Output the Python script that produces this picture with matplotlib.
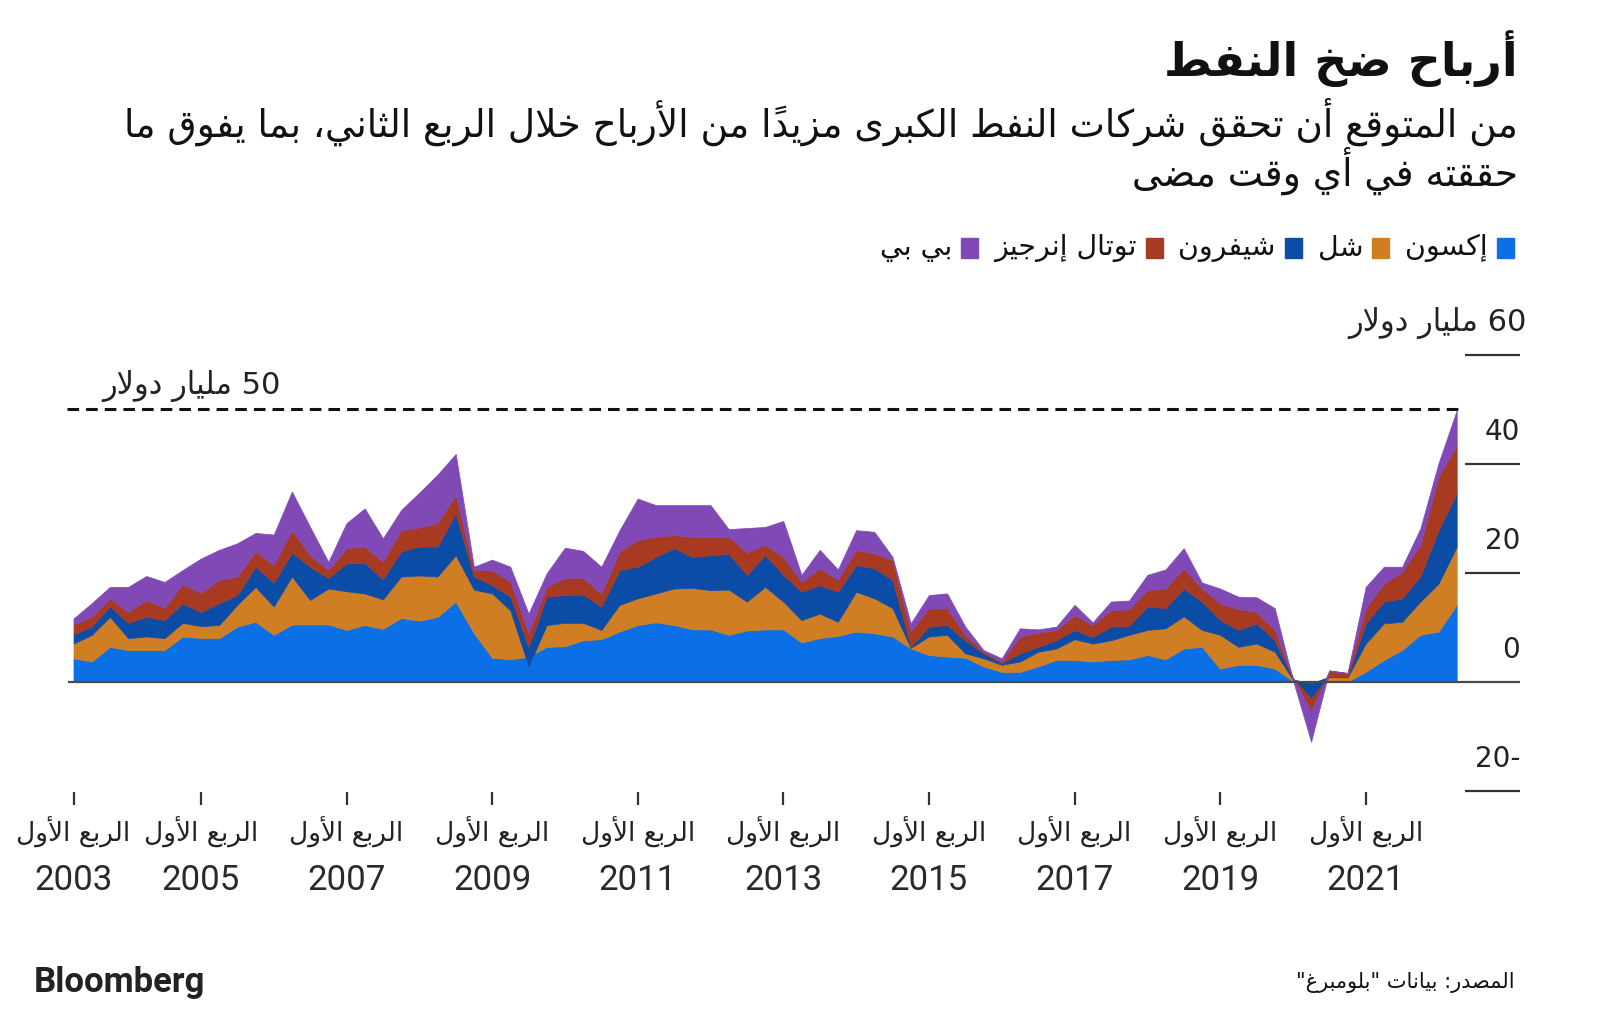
import matplotlib
matplotlib.use('Agg')
import matplotlib.pyplot as plt
import numpy as np

# quarterly profits of the oil majors, billion USD, Q2 2003 .. Q2 2022
start = 2003.25
exxon = [4.3, 3.7, 6.4, 5.8, 5.8, 5.8, 8.3, 8.0, 8.0, 10.1,
         11.0, 8.6, 10.5, 10.5, 10.5, 9.5, 10.4, 9.7, 11.7, 11.2,
         11.9, 14.7, 8.9, 4.4, 4.1, 4.6, 6.4, 6.5, 7.6, 7.8,
         9.2, 10.4, 10.9, 10.4, 9.6, 9.6, 8.6, 9.4, 9.6, 9.6,
         7.2, 8.0, 8.4, 9.2, 8.9, 8.3, 6.1, 4.9, 4.6, 4.4,
         2.8, 1.8, 1.8, 2.8, 4.0, 4.0, 3.7, 4.0, 4.1, 4.9,
         4.1, 6.1, 6.4, 2.4, 3.1, 3.1, 2.4, 0.1, -0.3, 0.0,
         0.0, 1.8, 4.0, 5.8, 8.6, 9.2, 14.1]
shell = [2.7, 4.9, 5.5, 2.2, 2.5, 2.2, 2.5, 2.2, 2.4, 4.0,
         6.4, 5.2, 8.8, 4.5, 6.6, 7.1, 5.8, 5.4, 7.6, 8.3,
         7.4, 8.5, 8.0, 11.8, 9.0, -1.8, 4.0, 4.3, 3.2, 1.7,
         4.9, 4.9, 5.3, 6.7, 7.6, 7.2, 8.3, 5.3, 7.8, 5.1,
         4.1, 4.5, 2.6, 7.3, 6.4, 5.2, 0.1, 3.4, 4.0, 0.8,
         1.5, 1.3, 1.9, 2.7, 2.1, 3.8, 3.3, 3.6, 4.5, 4.6,
         5.7, 5.9, 3.1, 6.2, 3.3, 3.9, 3.1, 0.3, 0.0, 0.9,
         0.8, 5.2, 6.7, 5.2, 6.1, 8.8, 10.7]
chevron = [1.7, 1.5, 1.9, 2.8, 3.6, 3.3, 3.6, 2.6, 4.0, 1.8,
           3.7, 4.4, 4.4, 6.1, 1.9, 5.1, 5.6, 3.7, 4.6, 5.3,
           5.5, 7.7, 2.4, 1.5, 2.5, 3.6, 5.2, 5.1, 5.2, 4.3,
           6.4, 5.8, 6.7, 7.4, 5.7, 6.4, 6.6, 4.9, 5.8, 4.9,
           5.2, 5.2, 5.5, 4.9, 5.5, 5.2, 0.2, 1.8, 1.8, 2.4,
           0.9, 0.3, 1.5, 0.9, 1.5, 1.7, 1.2, 2.5, 1.6, 4.3,
           3.7, 5.1, 5.2, 2.7, 3.1, 3.7, 2.1, 0.2, -2.8, 0.1,
           0.1, 3.7, 4.0, 4.3, 4.6, 9.8, 9.8]
total = [1.8, 1.8, 1.5, 2.0, 3.1, 2.2, 3.5, 3.5, 4.3, 3.4,
         2.8, 3.2, 4.1, 2.1, 1.5, 2.8, 3.0, 3.2, 3.9, 3.5,
         4.3, 3.4, 1.2, 2.8, 2.7, 2.5, 1.8, 3.1, 3.0, 2.4,
         3.4, 4.9, 3.7, 2.4, 3.7, 3.4, 3.1, 4.1, 1.9, 3.3,
         1.8, 3.1, 2.2, 2.8, 2.7, 3.6, 2.8, 3.4, 3.1, 1.0,
         0.3, 0.3, 3.1, 2.6, 1.9, 2.7, 2.2, 3.0, 3.1, 3.0,
         3.6, 3.7, 2.4, 3.1, 3.8, 2.1, 1.9, 0.1, -2.4, 1.0,
         0.7, 2.8, 3.3, 4.9, 5.8, 9.8, 8.8]
bp = [1.1, 2.5, 2.1, 4.6, 4.4, 4.8, 2.6, 6.3, 5.5, 6.1,
      3.4, 5.6, 7.1, 5.2, 1.5, 4.6, 7.0, 4.3, 3.7, 6.4,
      8.9, 7.5, 0.6, 1.9, 2.8, 3.6, 2.5, 5.6, 5.0, 4.9,
      3.9, 7.6, 5.8, 5.5, 5.8, 5.8, 1.4, 4.5, 3.3, 6.6,
      1.3, 3.4, 1.9, 3.6, 4.0, 0.6, 1.5, 2.4, 2.7, 1.5,
      0.3, 0.6, 1.5, 0.6, 0.6, 1.9, 0.5, 1.6, 1.6, 2.8,
      3.5, 3.7, 1.1, 2.7, 2.3, 2.7, 4.0, -0.4, -5.5, 0.1,
      0.0, 3.9, 3.1, 0.9, 3.0, 2.5, 6.4]

names = ['إكسون', 'شل', 'شيفرون', 'توتال إنرجيز', 'بي بي']
colors = ['#0B6FE6', '#D07E24', '#0B4CA6', '#A83A22', '#8049B6']
yticks = [-20, 0, 20, 40, 60]
tick_years = [2003, 2005, 2007, 2009, 2011, 2013, 2015, 2017, 2019, 2021]
record = 50

# --- minimal arabic shaping (matplotlib has no text shaping) ---
_base = {0x0621: (0xFE80, 1), 0x0622: (0xFE81, 2), 0x0623: (0xFE83, 2),
         0x0624: (0xFE85, 2), 0x0625: (0xFE87, 2), 0x0626: (0xFE89, 4),
         0x0627: (0xFE8D, 2), 0x0628: (0xFE8F, 4), 0x0629: (0xFE93, 2),
         0x062A: (0xFE95, 4), 0x062B: (0xFE99, 4), 0x062C: (0xFE9D, 4),
         0x062D: (0xFEA1, 4), 0x062E: (0xFEA5, 4), 0x062F: (0xFEA9, 2),
         0x0630: (0xFEAB, 2), 0x0631: (0xFEAD, 2), 0x0632: (0xFEAF, 2),
         0x0633: (0xFEB1, 4), 0x0634: (0xFEB5, 4), 0x0635: (0xFEB9, 4),
         0x0636: (0xFEBD, 4), 0x0637: (0xFEC1, 4), 0x0638: (0xFEC5, 4),
         0x0639: (0xFEC9, 4), 0x063A: (0xFECD, 4), 0x0641: (0xFED1, 4),
         0x0642: (0xFED5, 4), 0x0643: (0xFED9, 4), 0x0644: (0xFEDD, 4),
         0x0645: (0xFEE1, 4), 0x0646: (0xFEE5, 4), 0x0647: (0xFEE9, 4),
         0x0648: (0xFEED, 2), 0x0649: (0xFEEF, 2), 0x064A: (0xFEF1, 4)}
_lamalef = {0x0622: 0xFEF5, 0x0623: 0xFEF7, 0x0625: 0xFEF9, 0x0627: 0xFEFB}


def _mark(c):
    return 0x064B <= ord(c) <= 0x0652


def ar(text):
    ch = list(text)
    n = len(ch)
    out = []
    i = 0
    while i < n:
        o = ord(ch[i])
        if o not in _base:
            out.append(ch[i])
            i += 1
            continue
        j = i - 1
        while j >= 0 and _mark(ch[j]):
            j -= 1
        pj = j >= 0 and ord(ch[j]) in _base and _base[ord(ch[j])][1] == 4
        k = i + 1
        while k < n and _mark(ch[k]):
            k += 1
        nxt = ord(ch[k]) if k < n else None
        if o == 0x0644 and nxt in _lamalef:
            out.append(chr(_lamalef[nxt] + (1 if pj else 0)))
            i = k + 1
            continue
        first, nf = _base[o]
        nj = nf == 4 and nxt in _base and _base[nxt][1] > 1
        if nf == 1:
            f = 0
        elif pj and nj:
            f = 3
        elif pj:
            f = 1
        elif nj:
            f = 2
        else:
            f = 0
        out.append(chr(first + f))
        i += 1
    # visual order: reverse, keep latin/digit runs left-to-right
    toks = []
    for c in out:
        if c.isascii() and c.isalnum():
            if toks and toks[-1][0] == 'L':
                toks[-1][1] += c
            else:
                toks.append(['L', c])
        elif _mark(c) and toks:
            toks[-1][1] += c
        else:
            toks.append(['R', c])
    return ''.join(t[1] for t in reversed(toks))


AR = ['DejaVu Sans']
LATIN = ['Roboto', 'DejaVu Sans']

W, H = 1600, 1013
fig = plt.figure(figsize=(16, 10.13), dpi=100)
ax = fig.add_axes([0, 0, 1, 1])
# pixel mapping: first quarter at x=73.5 px, 72.8 px per year; zero at y=681.7 px, 5.45 px per billion
ax.set_xlim(start - 73.5 / 72.8, start + (W - 73.5) / 72.8)
ax.set_ylim(-(H - 681.7) / 5.45, 681.7 / 5.45)
ax.axis('off')

x = start + 0.25 * np.arange(len(exxon))
ax.stackplot(x, exxon, shell, chevron, total, bp, colors=colors,
             linewidth=0.5, edgecolor='face', zorder=2)

x_end = 2023.12
ax.hlines(record, x[0] - 0.09, x[-1] + 0.09, colors='#111111', lw=2.2,
          linestyles=(0, (3.8, 2.3)), zorder=3)
ax.hlines(0, x[0] - 0.07, x_end, colors='#4a4a4a', lw=1.6, zorder=4)
for yv in yticks:
    if yv != 0:
        ax.hlines(yv, x[-1] + 0.12, x_end, colors='#333333', lw=1.6)
    if yv == 60:
        ax.text(x_end + 0.09, yv + 5.9, ar(f'{yv} مليار دولار'), ha='right',
                va='center', fontsize=22, color='#222222', family=AR)
    else:
        ax.text(x_end, yv + 5.9, ar(str(yv)), ha='right', va='center',
                fontsize=20, color='#222222', family=AR)

ax.text(x[0] + 2.85, record + 1.3, ar(f'{record} مليار دولار'), ha='right',
        va='bottom', fontsize=22, color='#222222', family=AR)

for yr in tick_years:
    tx = max(yr, start)
    ax.vlines(tx, -22.6, -20.2, colors='#333333', lw=1.6)
    ax.text(tx, -27.7, ar('الربع الأول'), ha='center', va='center',
            fontsize=19, color='#222222', family=AR)
    ax.text(tx, -36.4, str(yr), ha='center', va='center', fontsize=25,
            color='#2a2a2a', family=LATIN)

# title block
fig.text(1518 / W, 1 - 59 / H, ar('أرباح ضخ النفط'), ha='right', va='center',
         fontsize=33, fontweight='bold', color='#111111', family=AR)
fig.text(1518 / W, 1 - 122 / H,
         ar('من المتوقع أن تحقق شركات النفط الكبرى مزيداً من الأرباح خلال الربع الثاني، بما يفوق ما'),
         ha='right', va='center', fontsize=27, color='#111111', family=AR)
fig.text(1518 / W, 1 - 171 / H, ar('حققته في أي وقت مضى'), ha='right',
         va='center', fontsize=27, color='#111111', family=AR)

# legend, right to left
lx = 1514
for name, col in zip(names, colors):
    fig.patches.append(plt.Rectangle(((lx - 17) / W, 1 - 258 / H), 17 / W, 20 / H,
                                     transform=fig.transFigure, color=col))
    t = fig.text((lx - 26) / W, 1 - 248 / H, ar(name), ha='right', va='center',
                 fontsize=20.5, color='#111111', family=AR)
    fig.canvas.draw()
    wpx = t.get_window_extent(fig.canvas.get_renderer()).width
    lx = lx - 26 - wpx - 16

fig.text(34 / W, 1 - 982 / H, 'Bloomberg', ha='left', va='center', fontsize=25,
         fontweight='bold', color='#222222', family=LATIN)
fig.text(1515 / W, 1 - 982 / H, ar('المصدر: بيانات "بلومبرغ"'), ha='right',
         va='center', fontsize=15, color='#111111', family=AR)

fig.savefig('out.png', dpi=100)
